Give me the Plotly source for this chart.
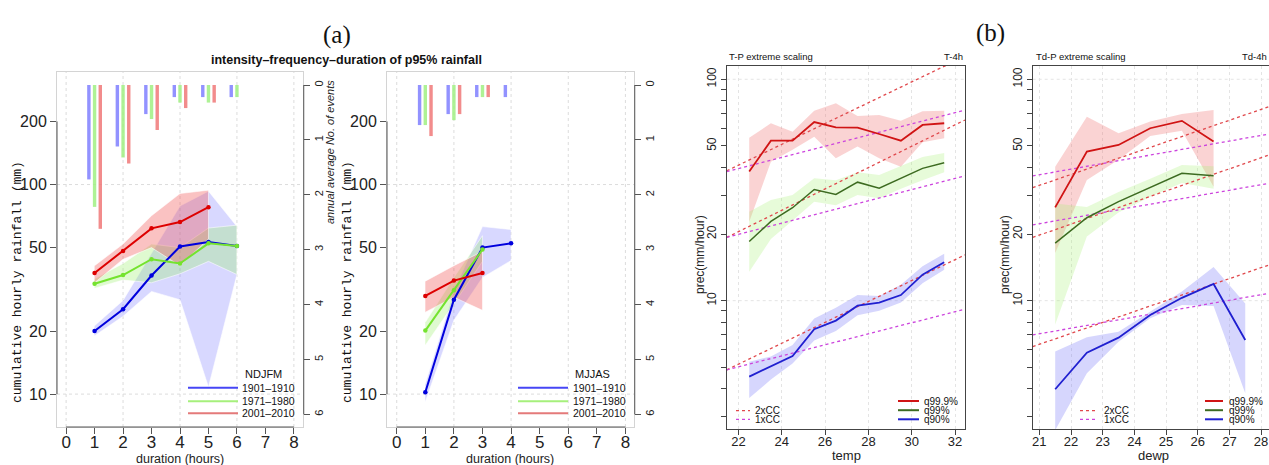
import plotly.graph_objects as go

W, H = 1269, 465
def fx(p): return p / W
def fy(p): return 1 - p / H

SANS = "Liberation Sans"
MONO = "Liberation Mono"
SERIF = "Liberation Serif"

# ---------------- Panel (a) data ----------------
dur = [1, 2, 3, 4, 5, 6]
# NDJFM
nd_blue = [20.0, 25.4, 36.8, 50.6, 53.2, 50.9]
nd_blue_lo = [19.0, 23.5, 30.9, 28.2, 10.8, 37.2]
nd_blue_hi = [21.2, 28.0, 47.0, 79.0, 93.0, 63.0]
nd_green = [33.6, 37.0, 44.0, 42.0, 52.4, 50.9]
nd_green_lo = [32.0, 35.0, 34.0, 37.5, 43.0, 37.2]
nd_green_hi = [35.5, 42.0, 52.0, 50.0, 62.0, 64.0]
nd_red_dur = [1, 2, 3, 4, 5]
nd_red = [37.8, 48.2, 61.8, 66.2, 78.0]
nd_red_lo = [34.0, 44.0, 50.0, 41.0, 55.0]
nd_red_hi = [41.0, 52.0, 71.0, 90.6, 94.0]
nd_bar_blue = [1.72, 1.12, 0.53, 0.22, 0.22, 0.22]
nd_bar_green = [2.22, 1.32, 0.62, 0.32, 0.32, 0.22]
nd_bar_red = [2.62, 1.43, 0.82, 0.42, 0.32]

# MJJAS
mj_blue_dur = [1, 2, 3, 4]
mj_blue = [10.2, 28.2, 50.0, 52.4]
mj_blue_lo = [9.2, 22.5, 36.0, 43.4]
mj_blue_hi = [11.2, 31.0, 63.0, 61.0]
mj_dur3 = [1, 2, 3]
mj_green = [20.1, 31.3, 49.0]
mj_green_lo = [17.1, 27.0, 43.0]
mj_green_hi = [22.0, 36.0, 57.0]
mj_red = [29.4, 34.8, 37.8]
mj_red_lo = [24.6, 29.0, 25.1]
mj_red_hi = [34.6, 41.0, 48.0]
mj_bar_blue = [0.73, 0.53, 0.22, 0.22]
mj_bar_green = [0.73, 0.64, 0.22]
mj_bar_red = [0.93, 0.53, 0.22]

periods = ["1901–1910", "1971–1980", "2001–2010"]

# ---------------- Panel (b) data ----------------
t_bins = [22.5, 23.5, 24.5, 25.5, 26.5, 27.5, 28.5, 29.5, 30.5, 31.5]
t_q999 = [38.3, 52.8, 52.8, 64.1, 60.7, 60.5, 56.6, 52.8, 62.2, 63.3]
t_q999_lo = [22.7, 42.4, 48.0, 55.0, 44.0, 49.7, 44.0, 40.3, 52.0, 54.2]
t_q999_hi = [54.4, 63.3, 58.0, 72.1, 78.0, 68.2, 69.0, 65.0, 71.7, 72.0]
t_q99 = [18.5, 22.8, 26.3, 31.8, 30.2, 34.3, 32.2, 35.7, 39.6, 42.0]
t_q99_lo = [13.5, 19.0, 23.0, 28.0, 27.0, 30.0, 29.0, 32.0, 35.0, 38.0]
t_q99_hi = [25.2, 28.5, 30.0, 35.7, 35.0, 38.0, 37.0, 40.5, 44.6, 46.5]
t_q90 = [4.54, 5.07, 5.62, 7.43, 8.13, 9.49, 9.8, 10.6, 13.1, 14.9]
t_q90_lo = [3.63, 4.4, 5.2, 6.6, 7.3, 8.6, 9.0, 9.8, 12.0, 13.8]
t_q90_hi = [5.3, 5.6, 6.3, 8.3, 9.3, 10.6, 10.5, 11.8, 14.3, 16.3]
t_cc_x = [21.46, 32.46]
t_cc2 = [[38.6, 127.0], [19.3, 65.5], [4.87, 16.1]]
t_cc1 = [[38.3, 72.6], [19.3, 36.6], [4.87, 9.15]]

td_bins = [21.5, 22.5, 23.5, 24.5, 25.5, 26.5, 27.5]
td_q999 = [26.4, 47.1, 50.5, 60.1, 64.9, 52.3]
td_q999_lo = [16.4, 35.1, 43.3, 55.5, 58.6, 32.7]
td_q999_hi = [40.3, 67.8, 57.0, 64.4, 69.7, 72.6]
td_q99 = [18.2, 23.7, 28.0, 32.5, 37.6, 36.7]
td_q99_lo = [7.8, 19.5, 25.0, 29.5, 34.0, 32.0]
td_q99_hi = [27.5, 26.5, 31.0, 35.5, 41.0, 40.5]
td_q90 = [3.98, 5.82, 6.81, 8.61, 10.3, 11.9, 6.64]
td_q90_lo = [2.6, 4.7, 6.53, 8.33, 9.56, 9.46, 3.82]
td_q90_hi = [5.89, 6.84, 7.24, 8.92, 11.0, 14.2, 9.7]
td_cc_x = [20.79, 28.25]
td_cc2 = [[32.4, 75.2], [19.3, 45.5], [6.2, 14.5]]
td_cc1 = [[36.6, 56.6], [22.0, 33.9], [7.0, 10.8]]

q_names = ["q99.9%", "q99%", "q90%"]
cc_names = ["2xCC", "1xCC"]

# colours
A_LINE = ["#0000dd", "#74e32e", "#dd0000"]
A_BAND = ["rgba(110,110,255,0.27)", "rgba(150,240,100,0.30)", "rgba(240,80,80,0.35)"]
A_BAR = ["rgba(110,110,255,0.75)", "rgba(160,240,130,0.85)", "rgba(240,120,120,0.85)"]
A_LEG = ["#4646f5", "#a6f07c", "#e47a7a"]
B_LINE = ["#d01414", "#3d6b21", "#2020d0"]
B_BAND = ["rgba(240,110,110,0.30)", "rgba(170,240,120,0.28)", "rgba(120,120,250,0.30)"]
CC2 = "#e0484c"
CC1 = "#cc44dd"

fig = go.Figure()

def band(x, lo, hi, color, xa, ya, edge=None):
    fig.add_trace(go.Scatter(
        x=list(x) + list(x)[::-1], y=list(hi) + list(lo)[::-1],
        fill="toself", fillcolor=color, mode="lines",
        line=dict(width=0.8 if edge else 0, color=edge or "rgba(0,0,0,0)"),
        hoverinfo="skip", showlegend=False, xaxis=xa, yaxis=ya))

def line(x, y, color, xa, ya, width=2, markers=False):
    fig.add_trace(go.Scatter(
        x=x, y=y, mode="lines+markers" if markers else "lines",
        line=dict(color=color, width=width),
        marker=dict(size=4.5, color=color),
        showlegend=False, xaxis=xa, yaxis=ya))

def bars(x, y, color, offset, xa, ya):
    fig.add_trace(go.Bar(x=x[:len(y)], y=y, width=0.12, offset=offset,
                         marker=dict(color=color, line=dict(width=0)),
                         showlegend=False, xaxis=xa, yaxis=ya))

EDGE = "rgba(255,255,255,0.7)"
# --- panel a left (NDJFM)
band(dur, nd_blue_lo, nd_blue_hi, A_BAND[0], "x", "y", EDGE)
band(dur, nd_green_lo, nd_green_hi, A_BAND[1], "x", "y", EDGE)
band(nd_red_dur, nd_red_lo, nd_red_hi, A_BAND[2], "x", "y", EDGE)
line(dur, nd_blue, A_LINE[0], "x", "y", 2, True)
line(dur, nd_green, A_LINE[1], "x", "y", 2, True)
line(nd_red_dur, nd_red, A_LINE[2], "x", "y", 2, True)
offs = [-0.26, -0.06, 0.14]
for vals, c, o in zip([nd_bar_blue, nd_bar_green, nd_bar_red], A_BAR, offs):
    bars(dur, vals, c, o, "x", "y2")

# --- panel a right (MJJAS)
band(mj_blue_dur, mj_blue_lo, mj_blue_hi, A_BAND[0], "x2", "y3", EDGE)
band(mj_dur3, mj_green_lo, mj_green_hi, A_BAND[1], "x2", "y3", EDGE)
band(mj_dur3, mj_red_lo, mj_red_hi, A_BAND[2], "x2", "y3", EDGE)
line(mj_blue_dur, mj_blue, A_LINE[0], "x2", "y3", 2, True)
line(mj_dur3, mj_green, A_LINE[1], "x2", "y3", 2, True)
line(mj_dur3, mj_red, A_LINE[2], "x2", "y3", 2, True)
for vals, c, o in zip([mj_bar_blue, mj_bar_green, mj_bar_red], A_BAR, offs):
    bars(dur, vals, c, o, "x2", "y4")

# --- panel b left (temp)
band(t_bins, t_q999_lo, t_q999_hi, B_BAND[0], "x3", "y5")
band(t_bins, t_q99_lo, t_q99_hi, B_BAND[1], "x3", "y5")
band(t_bins, t_q90_lo, t_q90_hi, B_BAND[2], "x3", "y5")
for a, b in zip(t_cc2, t_cc1):
    fig.add_trace(go.Scatter(x=t_cc_x, y=a, mode="lines", line=dict(color=CC2, width=1.3, dash="dot"),
                             showlegend=False, xaxis="x3", yaxis="y5"))
    fig.add_trace(go.Scatter(x=t_cc_x, y=b, mode="lines", line=dict(color=CC1, width=1.3, dash="dot"),
                             showlegend=False, xaxis="x3", yaxis="y5"))
line(t_bins, t_q999, B_LINE[0], "x3", "y5", 1.8)
line(t_bins, t_q99, B_LINE[1], "x3", "y5", 1.5)
line(t_bins, t_q90, B_LINE[2], "x3", "y5", 1.8)

# --- panel b right (dewp)
band(td_bins[:6], td_q999_lo, td_q999_hi, B_BAND[0], "x4", "y6")
band(td_bins[:6], td_q99_lo, td_q99_hi, B_BAND[1], "x4", "y6")
band(td_bins, td_q90_lo, td_q90_hi, B_BAND[2], "x4", "y6")
for a, b in zip(td_cc2, td_cc1):
    fig.add_trace(go.Scatter(x=td_cc_x, y=a, mode="lines", line=dict(color=CC2, width=1.3, dash="dot"),
                             showlegend=False, xaxis="x4", yaxis="y6"))
    fig.add_trace(go.Scatter(x=td_cc_x, y=b, mode="lines", line=dict(color=CC1, width=1.3, dash="dot"),
                             showlegend=False, xaxis="x4", yaxis="y6"))
line(td_bins[:6], td_q999, B_LINE[0], "x4", "y6", 1.8)
line(td_bins[:6], td_q99, B_LINE[1], "x4", "y6", 1.5)
line(td_bins, td_q90, B_LINE[2], "x4", "y6", 1.8)

# ---------------- axes ----------------
BOXA = "#d4d4d4"
AX = "#555555"
a_ytick = dict(type="log", range=[0.843, 2.537], tickvals=[10, 20, 50, 100, 200],
               ticktext=["10", "20", "50", "100", "200"], ticks="outside", ticklen=6,
               tickcolor=AX, tickfont=dict(family=SANS, size=16, color="#222"),
               showgrid=False, showline=True, linecolor=BOXA, mirror=True,
               zeroline=False, automargin=False, domain=[fy(427), fy(72)])
a_xtick = dict(tickvals=list(range(9)), ticks="outside", ticklen=6, tickcolor=AX,
               tickfont=dict(family=SANS, size=17, color="#222"), showgrid=False,
               ticklabelstandoff=-6,
               showline=True, linecolor=BOXA, mirror=True, zeroline=False, automargin=False)
a_y2 = dict(range=[6.23, -0.237], tickvals=list(range(7)), ticks="outside", ticklen=6,
            tickcolor=AX, tickangle=-90, tickfont=dict(family=SANS, size=11, color="#222"),
            showgrid=False, showline=False, zeroline=False, side="right", automargin=False)

b_ytv = [3, 4, 5, 6, 7, 8, 9, 10, 20, 30, 40, 50, 60, 70, 80, 90, 100]
b_ytt = ["10" if v == 10 else "20" if v == 20 else "50" if v == 50 else "100" if v == 100 else "" for v in b_ytv]
BOXB = "#444444"
b_y = dict(type="log", range=[0.419, 2.06], tickvals=b_ytv, ticktext=b_ytt, ticks="outside",
           ticklen=5, tickcolor=BOXB, tickangle=-90, tickfont=dict(family=SANS, size=12, color="#222"),
           showgrid=False, showline=True, linecolor=BOXB, zeroline=False, automargin=False,
           domain=[fy(429.3), fy(66)])
b_x = dict(ticks="outside", ticklen=5, tickcolor=BOXB, tickfont=dict(family=SANS, size=13, color="#222"),
           ticklabelstandoff=-5,
           showgrid=True, gridcolor="#e4e4e4", griddash="dot", showline=True, linecolor=BOXB,
           mirror=True, zeroline=False, automargin=False)

fig.update_layout(
    width=W, height=H, margin=dict(l=0, r=0, t=0, b=0),
    paper_bgcolor="white", plot_bgcolor="rgba(0,0,0,0)",
    barmode="overlay", showlegend=False,
    xaxis=dict(**a_xtick, domain=[fx(57), fx(303)], range=[-0.32, 8.32], anchor="y"),
    yaxis=dict(**a_ytick, anchor="x"),
    yaxis2=dict(**a_y2, overlaying="y", anchor="x"),
    xaxis2=dict(**a_xtick, domain=[fx(387), fx(634)], range=[-0.34, 8.3], anchor="y3"),
    yaxis3=dict(**a_ytick, anchor="x2"),
    yaxis4=dict(**a_y2, overlaying="y3", anchor="x2"),
    xaxis3=dict(**b_x, domain=[fx(726.7), fx(965)], range=[21.46, 32.46],
                tickvals=[22, 24, 26, 28, 30, 32], anchor="y5"),
    yaxis5=dict(**b_y, mirror=True, anchor="x3"),
    xaxis4=dict(**b_x, domain=[fx(1032.7), 1.0], range=[20.79, 28.25],
                tickvals=[21, 22, 23, 24, 25, 26, 27, 28], anchor="y6"),
    yaxis6=dict(**b_y, mirror=False, anchor="x4"),
)

shapes = []
GRID = dict(color="#dcdcdc", width=1, dash="dot")
for xa, ya in [("x", "y"), ("x2", "y3")]:
    for g in [0, 2, 4, 6, 8]:
        shapes.append(dict(type="line", xref=xa, yref=ya + " domain", x0=g, x1=g, y0=0, y1=1,
                           line=GRID, layer="below"))
    for g in [10, 100]:
        shapes.append(dict(type="line", xref=xa + " domain", yref=ya, x0=0, x1=1, y0=g, y1=g,
                           line=GRID, layer="below"))
    # R-style axis lines
    shapes.append(dict(type="line", xref=xa, yref=ya + " domain", x0=0, x1=8, y0=0, y1=0,
                       line=dict(color=AX, width=1)))
    shapes.append(dict(type="line", xref=xa + " domain", yref=ya, x0=0, x1=0, y0=10, y1=200,
                       line=dict(color=AX, width=1)))
for xa, ya in [("x", "y2"), ("x2", "y4")]:
    shapes.append(dict(type="line", xref=xa + " domain", yref=ya, x0=1.003, x1=1.003, y0=0, y1=6,
                       line=dict(color=AX, width=1)))
for xa, ya in [("x3", "y5"), ("x4", "y6")]:
    for g in [10, 100]:
        shapes.append(dict(type="line", xref=xa + " domain", yref=ya, x0=0, x1=1, y0=g, y1=g,
                           line=dict(color="#e4e4e4", width=1, dash="dot"), layer="below"))

annotations = []
def txt(x, y, s, size=11, family=SANS, xanchor="left", color="#111", angle=0, bold=False, italic=False):
    if bold:
        s = "<b>" + s + "</b>"
    if italic:
        s = "<i>" + s + "</i>"
    annotations.append(dict(x=fx(x), y=fy(y), xref="paper", yref="paper", text=s, showarrow=False,
                            xanchor=xanchor, yanchor="middle", textangle=angle,
                            font=dict(family=family, size=size, color=color)))

# panel (a) texts
txt(337, 35, "(a)", size=25, family=SERIF, xanchor="center")
txt(346, 60, "intensity–frequency–duration of p95% rainfall", size=12.5, xanchor="center", bold=True)
for xc in [17, 347]:
    txt(xc, 282, "cumulative hourly rainfall (mm)", size=13, family=MONO, xanchor="center", angle=-90, color="#111")
for xc in [180, 510]:
    txt(xc, 459, "duration (hours)", size=12.5, xanchor="center", color="#222")
txt(330, 152, "annual average No. of events", size=11, xanchor="center", angle=-90, italic=True, color="#222")

# panel (a) legends
for (title, tx, lx0, lx1, labx) in [("NDJFM", 243, 188, 238, 240), ("MJJAS", 573, 518, 568, 571)]:
    txt(tx, 374, title, size=11)
    for i, (lab, yy) in enumerate(zip(periods, [387.7, 401.2, 413.3])):
        shapes.append(dict(type="line", xref="paper", yref="paper", x0=fx(lx0), x1=fx(lx1),
                           y0=fy(yy), y1=fy(yy), line=dict(color=A_LEG[i], width=2)))
        txt(labx, yy, lab, size=10.5)

# panel (b) texts
txt(990, 33, "(b)", size=25, family=SERIF, xanchor="center")
txt(727, 57, "T-P extreme scaling", size=9.5)
txt(965, 57, "T-4h", size=9.5, xanchor="right")
txt(1034, 57, "Td-P extreme scaling", size=9.5)
txt(1240, 57, "Td-4h", size=9.5)
txt(700, 255, "prec(mm/hour)", size=12, xanchor="center", angle=-90, color="#222")
txt(1005, 255, "prec(mm/hour)", size=12, xanchor="center", angle=-90, color="#222")
txt(846, 455, "temp", size=13, xanchor="center", color="#222")
txt(1153, 455, "dewp", size=13, xanchor="center", color="#222")

for (qx0, qx1, qlab, cx0, cx1, clab) in [(898, 919, 922, 736, 750, 753), (1205, 1223, 1227, 1080, 1098, 1102)]:
    for i, (lab, yy) in enumerate(zip(q_names, [401.0, 410.2, 419.3])):
        shapes.append(dict(type="line", xref="paper", yref="paper", x0=fx(qx0), x1=fx(qx1),
                           y0=fy(yy), y1=fy(yy), line=dict(color=B_LINE[i], width=2)))
        txt(qlab, yy, lab, size=10)
    for lab, yy, c in zip(cc_names, [410.7, 419.3], [CC2, CC1]):
        shapes.append(dict(type="line", xref="paper", yref="paper", x0=fx(cx0), x1=fx(cx1),
                           y0=fy(yy), y1=fy(yy), line=dict(color=c, width=1.3, dash="dot")))
        txt(clab, yy, lab, size=10)

fig.update_layout(shapes=shapes, annotations=annotations)
fig.write_html("out.html", config={"displayModeBar": False},
               post_script="document.body.style.margin='0';document.body.style.overflow='hidden';")
